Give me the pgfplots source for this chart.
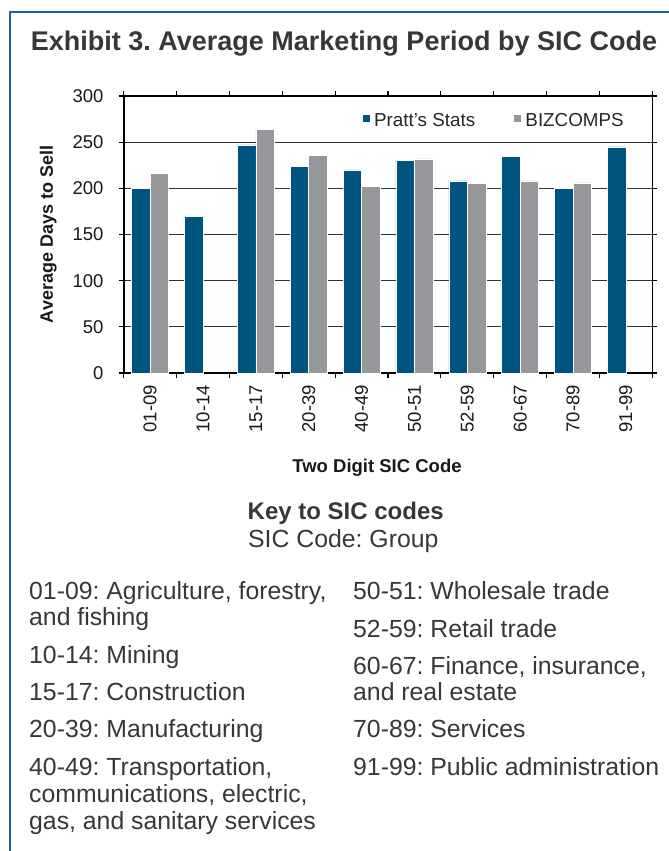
\documentclass[border=0pt]{standalone}
\usepackage{fontspec}
\setmainfont{Liberation Sans}
\usepackage{pgfplots}
\pgfplotsset{compat=1.18}
\definecolor{pratt}{RGB}{0,84,128}
\definecolor{biz}{RGB}{150,151,155}
\definecolor{frameblue}{RGB}{30,96,145}
\definecolor{txt}{RGB}{55,55,55}
\frenchspacing
\begin{document}
\begin{tikzpicture}
\useasboundingbox (0pt,0pt) rectangle (669pt,-851pt);
\draw[frameblue, line width=2pt] (9.5pt,-851pt) -- (9.5pt,-12.5pt) -- (669pt,-12.5pt);
\node[anchor=base west, inner sep=0pt, text=txt, font=\fontsize{27}{30}\selectfont\bfseries] at (30.7pt,-50.7pt) {Exhibit 3. Average Marketing Period by SIC Code};
\begin{axis}[
  at={(123.7pt,-373pt)}, anchor=south west,
  scale only axis, width=528.6pt, height=277pt,
  xmin=-0.5, xmax=9.5, ymin=0, ymax=300,
  ybar=0pt, bar width=18.5pt,
  xtick={-0.5,0.5,...,9.5},
  x tick label as interval,
  xticklabels={01-09,10-14,15-17,20-39,40-49,50-51,52-59,60-67,70-89,91-99},
  ytick={0,50,...,300},
  tick align=outside, major tick length=5pt,
  tick style={black, line width=1.2pt},
  ymajorgrids, grid style={black!80, line width=1.2pt},
  axis line style={black, line width=1.6pt},
  /pgf/number format/assume math mode=true,
  ticklabel style={font=\fontsize{18.5}{21}\selectfont, text=black!90},
  xticklabel style={rotate=90, anchor=east, inner xsep=7pt, inner ysep=0pt},
  yticklabel style={anchor=east, inner xsep=0pt, xshift=-15pt},
  ylabel={Average Days to Sell},
  ylabel style={at={(axis description cs:-0.1262,0.5)}, anchor=south, inner sep=0pt, font=\fontsize{18}{20}\selectfont\bfseries, text=black!90},
  xlabel={Two Digit SIC Code},
  xlabel style={at={(axis description cs:0.4792,-0.3599)}, anchor=base, inner sep=0pt, font=\fontsize{18.5}{20}\selectfont\bfseries, text=black!90},
  legend columns=2,
  legend style={at={(axis description cs:0.4502,0.9097)}, anchor=west, draw=none, fill=none, inner sep=0pt,
    font=\fontsize{18.8}{22}\selectfont, text=black!85,
    /tikz/every odd column/.style={column sep=3.5pt},
    /tikz/every even column/.style={column sep=38pt},
    nodes={inner sep=0pt}},
  legend image code/.code={\fill[#1] (0pt,-1.6pt) rectangle (8.3pt,6.7pt);},
]
\addplot[fill=pratt, draw=white, line width=0.5pt] coordinates {(0,200) (1,170) (2,247) (3,224) (4,220) (5,230) (6,208) (7,235) (8,200) (9,245)};
\addplot[fill=biz, draw=white, line width=0.5pt] coordinates {(0,216) (2,264) (3,236) (4,202) (5,232) (6,205) (7,208) (8,206)};
\legend{Pratt's Stats, BIZCOMPS}
\end{axis}
\begin{scope}[every node/.style={anchor=base west, inner sep=0pt, text=txt, font=\fontsize{24.8}{26}\selectfont}]
\node[anchor=base, font=\fontsize{24}{26}\selectfont\bfseries] at (345.7pt,-519pt) {Key to SIC codes};
\node[anchor=base] at (343.3pt,-547.7pt) {SIC Code: Group};
\node at (29pt,-599.3pt) {01-09: Agriculture, forestry,};
\node at (29pt,-625.5pt) {and fishing};
\node at (29pt,-663.5pt) {10-14: Mining};
\node at (29pt,-700.5pt) {15-17: Construction};
\node at (29pt,-737.5pt) {20-39: Manufacturing};
\node at (29pt,-775.5pt) {40-49: Transportation,};
\node at (29pt,-802.5pt) {communications, electric,};
\node at (29pt,-829.5pt) {gas, and sanitary services};
\node at (353pt,-599.3pt) {50-51: Wholesale trade};
\node at (353pt,-637pt) {52-59: Retail trade};
\node at (353pt,-674.3pt) {60-67: Finance, insurance,};
\node at (353pt,-700.5pt) {and real estate};
\node at (353pt,-737.5pt) {70-89: Services};
\node at (353pt,-775.5pt) {91-99: Public administration};
\end{scope}
\end{tikzpicture}
\end{document}
